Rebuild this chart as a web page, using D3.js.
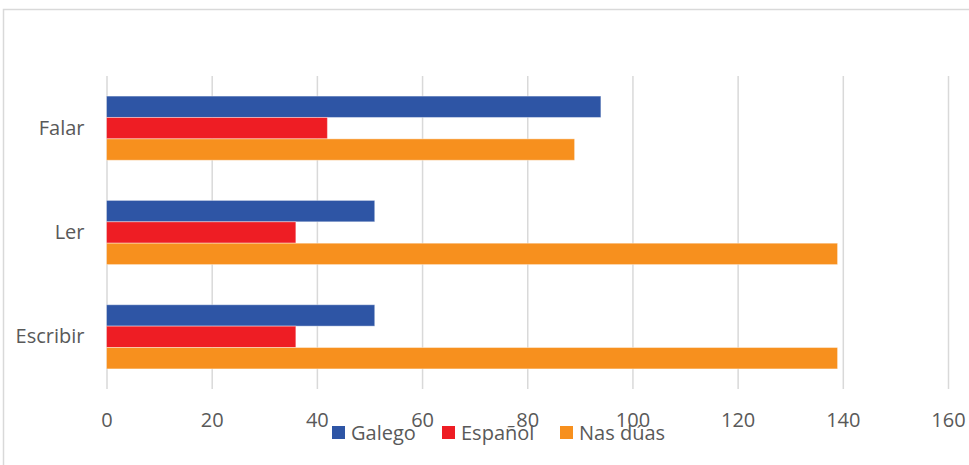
<!DOCTYPE html>
<html>
<head>
<meta charset="utf-8">
<script src="https://cdn.jsdelivr.net/npm/d3@7"></script>
<style>
  body { margin: 0; background: #fff; }
  svg { display: block; font-family: "Open Sans", sans-serif; }
</style>
</head>
<body>
<div id="chart"></div>
<script>
// chart data
var categories = ["Falar", "Ler", "Escribir"];
var seriesNames = ["Galego", "Español", "Nas dúas"];
var galego = [94, 51, 51];
var espanol = [42, 36, 36];
var nasDuas = [89, 139, 139];
var xTicks = [0, 20, 40, 60, 80, 100, 120, 140, 160];

var seriesColors = ["#2E55A5", "#EE1D24", "#F7901E"];
var seriesValues = [galego, espanol, nasDuas];

var width = 969, height = 465;
var plotLeft = 106.5, plotRight = 948, plotTop = 76, plotBottom = 389;

var svg = d3.select("#chart").append("svg")
    .attr("width", width)
    .attr("height", height);

svg.append("rect")
    .attr("width", width).attr("height", height)
    .attr("fill", "#fff");

// chart frame (right and bottom edges fall outside the picture)
svg.append("rect")
    .attr("x", 3.5).attr("y", 9.5)
    .attr("width", width + 20).attr("height", height + 20)
    .attr("fill", "none")
    .attr("stroke", "#d9d9d9")
    .attr("stroke-width", 1.5);

var x = d3.scaleLinear().domain([0, 160]).range([plotLeft, plotRight]);

var y = d3.scaleBand().domain(categories)
    .range([plotTop, plotBottom])
    .paddingInner(0.385)
    .paddingOuter(0.1925);

var ySub = d3.scaleBand().domain(seriesNames)
    .range([0, y.bandwidth()]);

// gridlines
var grid = svg.append("g")
    .attr("transform", "translate(0," + plotBottom + ")")
    .call(d3.axisBottom(x).tickValues(xTicks).tickSize(-(plotBottom - plotTop)).tickFormat(""));
grid.select(".domain").remove();
grid.selectAll("line").attr("stroke", "#d9d9d9").attr("stroke-width", 1.5);

// bars
var groups = svg.selectAll("g.cat")
    .data(categories)
    .enter().append("g")
    .attr("class", "cat")
    .attr("transform", function(d){ return "translate(0," + y(d) + ")"; });

groups.selectAll("rect")
    .data(function(d, i){
        return seriesNames.map(function(s, j){ return {series: s, value: seriesValues[j][i], color: seriesColors[j]}; });
    })
    .enter().append("rect")
    .attr("x", x(0))
    .attr("y", function(d){ return ySub(d.series); })
    .attr("height", ySub.bandwidth())
    .attr("width", function(d){ return x(d.value) - x(0); })
    .attr("fill", function(d){ return d.color; })
    .attr("stroke", "#fff")
    .attr("stroke-opacity", 0.4)
    .attr("stroke-width", 1);

// x axis labels
var xAxis = svg.append("g")
    .attr("transform", "translate(0," + plotBottom + ")")
    .call(d3.axisBottom(x).tickValues(xTicks).tickSize(0).tickPadding(24));
xAxis.select(".domain").remove();
xAxis.selectAll("text")
    .attr("fill", "#595959")
    .style("font-size", "20px")
    .style("font-family", "'Open Sans', sans-serif");

// y axis labels
var yAxis = svg.append("g")
    .attr("transform", "translate(" + plotLeft + ",0)")
    .call(d3.axisLeft(y).tickSize(0).tickPadding(22));
yAxis.select(".domain").remove();
yAxis.selectAll("text")
    .attr("fill", "#595959")
    .style("font-size", "20px")
    .style("font-family", "'Open Sans', sans-serif");

// legend
var legendX = [332, 442, 560];
var legend = svg.selectAll("g.legend")
    .data(seriesNames)
    .enter().append("g")
    .attr("class", "legend")
    .attr("transform", function(d, i){ return "translate(" + legendX[i] + ",433)"; });

legend.append("rect")
    .attr("x", 0).attr("y", -7)
    .attr("width", 13).attr("height", 13)
    .attr("fill", function(d, i){ return seriesColors[i]; });

legend.append("text")
    .attr("x", 19).attr("y", 0)
    .attr("dy", "0.35em")
    .attr("fill", "#595959")
    .style("font-size", "20px")
    .text(function(d){ return d; });
</script>
</body>
</html>
